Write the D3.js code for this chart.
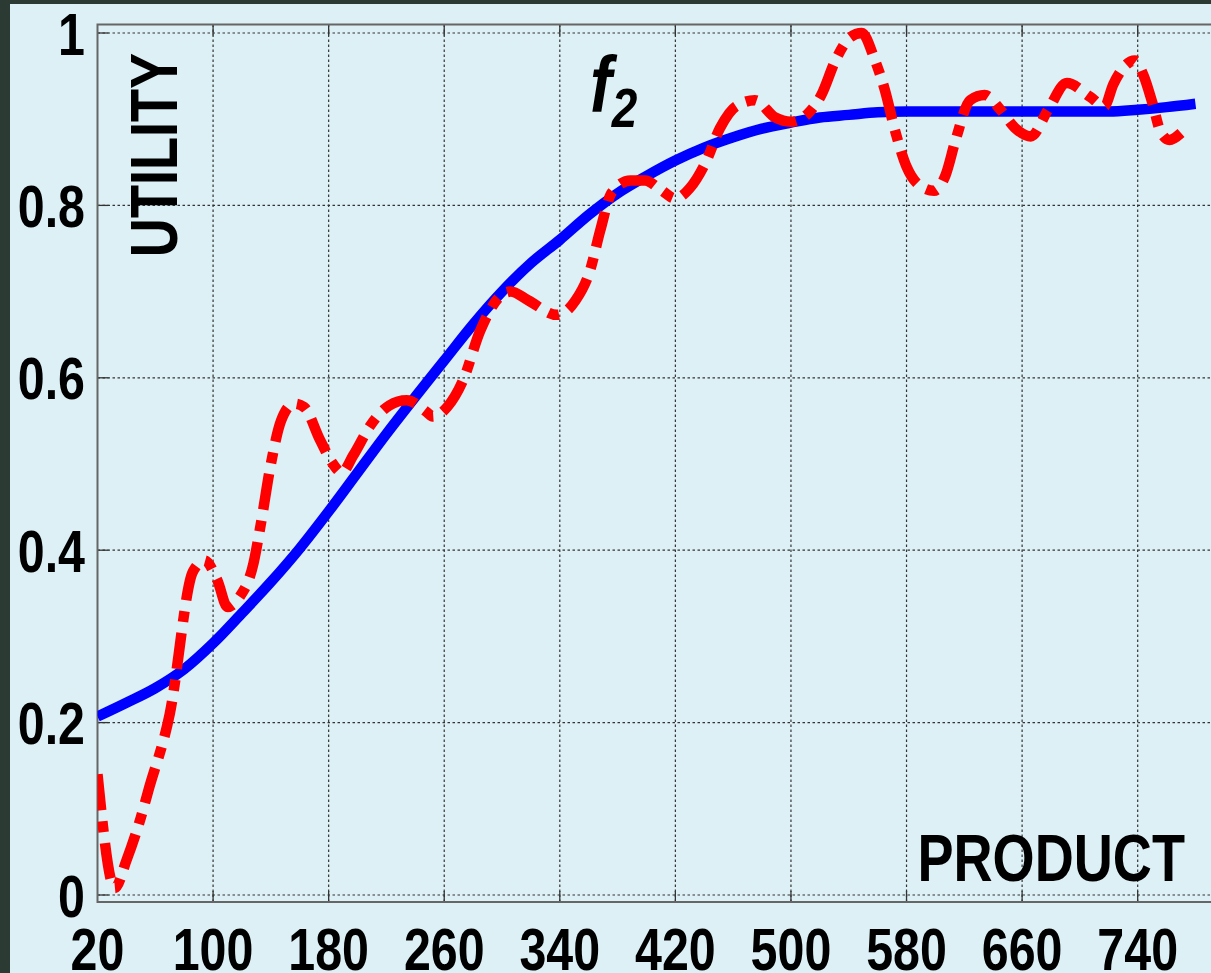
<!DOCTYPE html>
<html>
<head>
<meta charset="utf-8">
<script src="https://cdn.jsdelivr.net/npm/d3@7"></script>
<style>
  body { margin: 0; background: #2b3a33; }
  svg { display: block; }
  .lbl { font-family: "Liberation Sans", Arial, sans-serif; font-weight: bold; }
</style>
</head>
<body>
<div id="chart"></div>
<script>
// ------------------- DATA ----------------------

// smooth curve (blue)
let fitProduct = [20, 40, 60, 80, 100, 120, 140, 160, 180, 200, 220, 240, 260, 280, 300, 320, 340, 360, 380,
                  400, 420, 440, 460, 480, 500, 520, 540, 560, 580, 620, 660, 700, 720, 740, 760, 780];
let fitUtility = [0.207, 0.223, 0.240, 0.262, 0.292, 0.327, 0.363, 0.402, 0.445, 0.490, 0.535, 0.578, 0.620,
                  0.662, 0.700, 0.733, 0.760, 0.789, 0.814, 0.834, 0.852, 0.867, 0.879, 0.889, 0.896, 0.902,
                  0.905, 0.908, 0.909, 0.909, 0.909, 0.909, 0.909, 0.911, 0.914, 0.918];

// noisy curve (red, dash-dot)
let rawProduct = [20, 32, 40, 50, 55, 70, 86, 94, 103, 110, 118, 128, 133, 140, 147, 156, 163, 174, 183, 189,
                  197, 209, 222, 234, 248, 252, 262, 273, 285, 299, 306, 318, 338, 351, 361, 368, 376, 389,
                  399, 410, 420, 430, 441, 451, 462, 475, 489, 500, 512, 521, 531, 541, 549, 558, 565, 572,
                  580, 590, 599, 607, 614, 624, 634, 645, 655, 666, 678, 691, 707, 717, 723, 738, 744, 750,
                  756, 762, 770];
let rawUtility = [0.14, 0.008, 0.04, 0.09, 0.12, 0.21, 0.375, 0.388, 0.365, 0.334, 0.345, 0.385, 0.43, 0.50,
                  0.55, 0.57, 0.566, 0.528, 0.50, 0.49, 0.51, 0.545, 0.568, 0.574, 0.56, 0.555, 0.566, 0.597,
                  0.655, 0.695, 0.70, 0.69, 0.673, 0.69, 0.725, 0.771, 0.815, 0.829, 0.829, 0.818, 0.808,
                  0.82, 0.85, 0.89, 0.915, 0.922, 0.902, 0.897, 0.907, 0.928, 0.969, 0.995, 1.0, 0.969,
                  0.934, 0.887, 0.845, 0.822, 0.817, 0.835, 0.876, 0.922, 0.928, 0.911, 0.89, 0.88, 0.911,
                  0.942, 0.926, 0.915, 0.94, 0.968, 0.951, 0.92, 0.885, 0.876, 0.884];

let xTicks = [20, 100, 180, 260, 340, 420, 500, 580, 660, 740];
let yTicks = [0, 0.2, 0.4, 0.6, 0.8, 1];

// ------------------- SETUP ----------------------

let W = 1211, H = 973;
let plotLeft = 97.5, plotTop = 24.5, plotBottom = 902, plotRight = 1225;
let narrow = 0.82;   // no narrow font installed, squeeze the text instead

let x = d3.scaleLinear().domain([20, 800]).range([plotLeft, plotLeft + 780 * 1.4447]);
let y = d3.scaleLinear().domain([0, 1]).range([plotBottom - 7, plotTop + 8.5]);

let svg = d3.select("#chart")
            .append("svg")
            .attr("width", W)
            .attr("height", H)

// light panel inside the dark frame
svg.append("rect")
   .attr("x", 10).attr("y", 4)
   .attr("width", W - 10).attr("height", H - 4)
   .style("fill", "#dcf0f6")

svg.append("clipPath").attr("id", "plotclip")
   .append("rect")
   .attr("x", plotLeft).attr("y", plotTop)
   .attr("width", plotRight - plotLeft).attr("height", plotBottom - plotTop)

// ------------------- GRID ----------------------

let grid = svg.append("g")

grid.selectAll("line.h")
    .data(yTicks)
    .enter()
    .append("line")
    .attr("class", "h")
    .attr("x1", plotLeft).attr("x2", plotRight)
    .attr("y1", d => y(d)).attr("y2", d => y(d))
    .style("stroke", "#333").style("stroke-width", 1.2).style("stroke-dasharray", "2.5,2.5")

grid.selectAll("line.v")
    .data(xTicks.slice(1))
    .enter()
    .append("line")
    .attr("class", "v")
    .attr("x1", d => x(d)).attr("x2", d => x(d))
    .attr("y1", plotTop).attr("y2", plotBottom)
    .style("stroke", "#333").style("stroke-width", 1.2).style("stroke-dasharray", "2.5,2.5")

// inward tick marks
grid.selectAll("line.ty")
    .data(yTicks)
    .enter()
    .append("line")
    .attr("class", "ty")
    .attr("x1", plotLeft).attr("x2", plotLeft + 11)
    .attr("y1", d => y(d)).attr("y2", d => y(d))
    .style("stroke", "#333").style("stroke-width", 1.3)

grid.selectAll("line.tt")
    .data(xTicks.slice(1))
    .enter()
    .append("line")
    .attr("class", "tt")
    .attr("x1", d => x(d)).attr("x2", d => x(d))
    .attr("y1", plotTop).attr("y2", plotTop + 11)
    .style("stroke", "#333").style("stroke-width", 1.3)

grid.selectAll("line.tb")
    .data(xTicks.slice(1))
    .enter()
    .append("line")
    .attr("class", "tb")
    .attr("x1", d => x(d)).attr("x2", d => x(d))
    .attr("y1", plotBottom).attr("y2", plotBottom - 11)
    .style("stroke", "#333").style("stroke-width", 1.3)

// plot box
svg.append("rect")
   .attr("x", plotLeft).attr("y", plotTop)
   .attr("width", plotRight - plotLeft).attr("height", plotBottom - plotTop)
   .style("fill", "none").style("stroke", "#666").style("stroke-width", 2)

// ------------------- LINES ----------------------

let line = d3.line()
             .x(d => x(d[0]))
             .y(d => y(d[1]))
             .curve(d3.curveMonotoneX)

let lines = svg.append("g").attr("clip-path", "url(#plotclip)")

lines.append("path")
     .datum(fitProduct.map((p, i) => [p, fitUtility[i]]))
     .attr("d", line)
     .style("fill", "none")
     .style("stroke", "#0000ff")
     .style("stroke-width", 10.5)

lines.append("path")
     .datum(rawProduct.map((p, i) => [p, rawUtility[i]]))
     .attr("d", line)
     .style("fill", "none")
     .style("stroke", "#ff0000")
     .style("stroke-width", 10.5)
     .style("stroke-dasharray", "36,11,11,11")

// ------------------- TEXT ----------------------

svg.selectAll("g.ylab")
   .data(yTicks)
   .enter()
   .append("g")
   .attr("class", "ylab")
   .attr("transform", d => "translate(85," + (y(d) + 21.5) + ") scale(" + narrow + ",1)")
   .append("text")
   .attr("class", "lbl")
   .attr("text-anchor", "end")
   .style("font-size", "59px")
   .text(d => d3.format("")(d))

svg.selectAll("g.xlab")
   .data(xTicks)
   .enter()
   .append("g")
   .attr("class", "xlab")
   .attr("transform", d => "translate(" + x(d) + ",970) scale(" + narrow + ",1)")
   .append("text")
   .attr("class", "lbl")
   .attr("text-anchor", "middle")
   .style("font-size", "59px")
   .text(d => d)

svg.append("text")
   .attr("class", "lbl")
   .attr("transform", "translate(177,155) rotate(-90) scale(" + narrow + ",1)")
   .attr("text-anchor", "middle")
   .style("font-size", "66px")
   .text("UTILITY")

svg.append("text")
   .attr("class", "lbl")
   .attr("transform", "translate(1185,881) scale(" + narrow + ",1)")
   .attr("text-anchor", "end")
   .style("font-size", "66px")
   .text("PRODUCT")

let fl = svg.append("text")
            .attr("class", "lbl")
            .attr("transform", "translate(590,112) scale(" + narrow + ",1)")
            .style("font-style", "italic")
fl.append("tspan").style("font-size", "80px").text("f")
fl.append("tspan").attr("y", 15).style("font-size", "56px").text("2")
</script>
</body>
</html>
